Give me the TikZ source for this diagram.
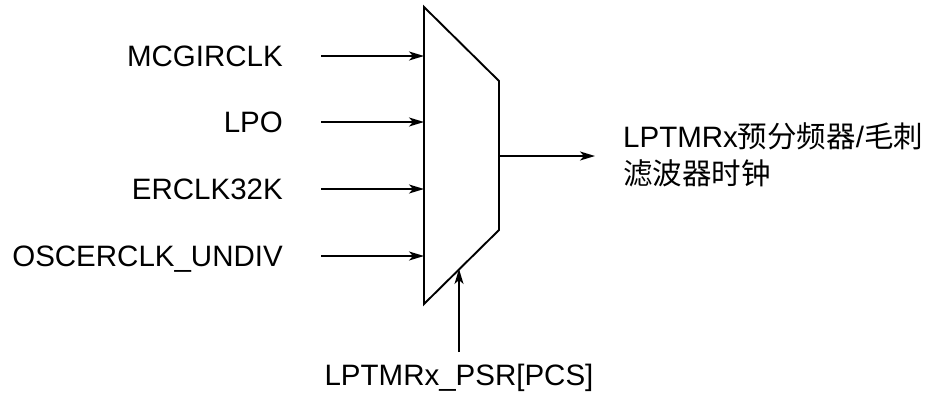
\documentclass[tikz,border=0pt]{standalone}
\usepackage{fontspec}
\setmainfont{Liberation Sans}
\newfontfamily\cjk{Noto Sans CJK SC}
\usetikzlibrary{arrows.meta}
\begin{document}
\begin{tikzpicture}[x=1pt,y=-1pt,
  lbl/.style={inner sep=0pt,font=\fontsize{29.5}{37}\selectfont},
  arr/.style={line width=1.7pt,-{Stealth[length=15pt,width=9pt,inset=4pt]}},
  muxline/.style={line width=1.9pt,line join=miter}]
\useasboundingbox (0,0) rectangle (927,397);
% mux corners
\coordinate (tl) at (424,7);
\coordinate (tr) at (499,81);
\coordinate (br) at (499,230);
\coordinate (bl) at (424,304);
\draw[muxline] (tl) -- (tr) -- (br) -- (bl) -- cycle;
% input labels
\node[lbl,anchor=base east] (l1) at (283,66) {MCGIRCLK};
\node[lbl,anchor=base east] (l2) at (283,132) {LPO};
\node[lbl,anchor=base east] (l3) at (283,199) {ERCLK32K};
\node[lbl,anchor=base east] (l4) at (283,266) {OSCERCLK\_UNDIV};
% input arrows
\coordinate (a1) at (321,56);  \coordinate (m1) at (424,56);
\coordinate (a2) at (321,122); \coordinate (m2) at (424,122);
\coordinate (a3) at (321,189); \coordinate (m3) at (424,189);
\coordinate (a4) at (321,256); \coordinate (m4) at (424,256);
\draw[arr] (a1) -- (m1);
\draw[arr] (a2) -- (m2);
\draw[arr] (a3) -- (m3);
\draw[arr] (a4) -- (m4);
% output
\coordinate (o1) at (499,156);
\coordinate (o2) at (595,156);
\draw[arr] (o1) -- (o2);
\node[lbl,anchor=base west,align=left] (out) at (623,184)
  {LPTMRx{\cjk 预分频器}/{\cjk 毛刺}\\{\cjk 滤波器时钟}};
% select
\node[lbl,anchor=base] (sel) at (459,385) {LPTMRx\_PSR[PCS]};
\coordinate (s1) at (459,352);
\coordinate (s2) at (459,269);
\draw[arr,line width=1.4pt] (s1) -- (s2);
\end{tikzpicture}
\end{document}
